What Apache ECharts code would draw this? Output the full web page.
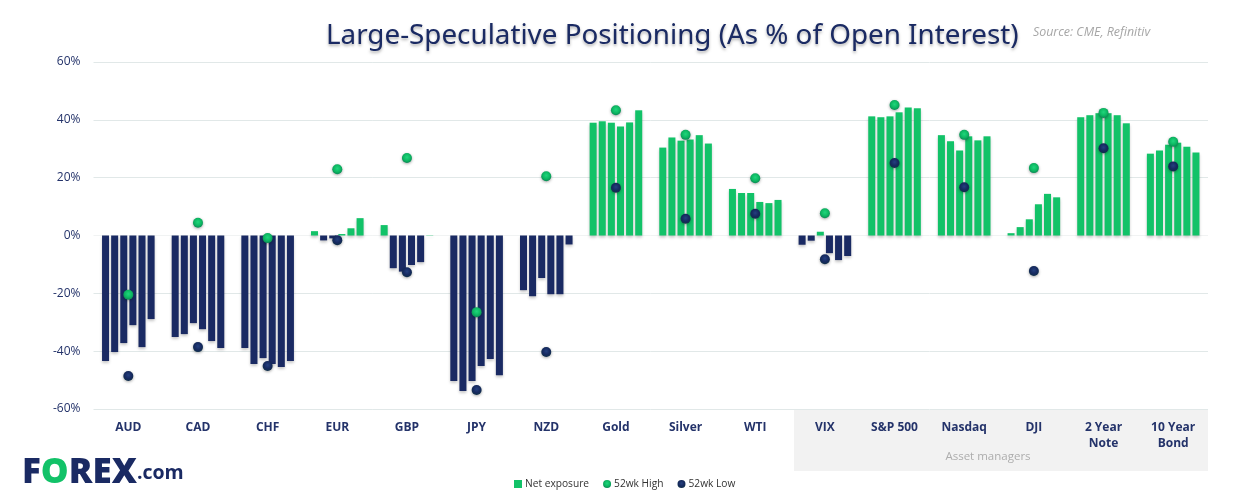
<!DOCTYPE html>
<html>
<head>
<meta charset="utf-8">
<title>Large-Speculative Positioning</title>
<script src="https://cdn.jsdelivr.net/npm/echarts@6/dist/echarts.min.js"></script>
<style>
html, body { margin: 0; padding: 0; background: #fff; }
#chart { width: 1247px; height: 503px; }
</style>
</head>
<body>
<div id="chart"></div>
<script>
var categories = ['AUD', 'CAD', 'CHF', 'EUR', 'GBP', 'JPY', 'NZD', 'Gold', 'Silver', 'WTI',
	'VIX', 'S&P 500', 'Nasdaq', 'DJI', '2 Year\nNote', '10 Year\nBond'];

// net exposure, six weekly readings per market (% of open interest)
var week1 = [-43.4, -35.1, -38.9, 1.5, 3.6, -50.3, -18.9, 39.0, 30.4, 16.1, -3.2, 41.2, 34.7, 0.8, 40.9, 28.3];
var week2 = [-40.3, -34.1, -44.4, -1.7, -11.3, -53.8, -21.0, 39.5, 33.9, 14.7, -1.8, 40.9, 32.6, 2.9, 41.6, 29.4];
var week3 = [-37.2, -30.3, -42.4, -1.0, -12.5, -50.3, -14.7, 39.0, 32.8, 14.7, 1.3, 41.2, 29.4, 5.6, 42.3, 31.4];
var week4 = [-31.0, -32.4, -44.4, 0.5, -10.2, -45.1, -20.3, 37.7, 33.2, 11.6, -6.1, 42.6, 34.3, 10.8, 42.3, 32.1];
var week5 = [-38.6, -36.5, -45.5, 2.5, -9.2, -42.7, -20.3, 39.1, 34.7, 11.2, -8.5, 44.3, 32.9, 14.4, 41.6, 30.7];
var week6 = [-28.9, -38.9, -43.4, 6.0, 0.1, -48.3, -3.1, 43.3, 31.8, 12.3, -7.1, 44.0, 34.3, 13.2, 38.8, 28.7];

var high52 = [-20.5, 4.4, -0.9, 22.9, 26.8, -26.5, 20.5, 43.3, 34.8, 19.8, 7.7, 45.1, 34.8, 23.3, 42.4, 32.4];
var low52 = [-48.6, -38.6, -45.1, -1.6, -12.7, -53.4, -40.3, 16.5, 5.8, 7.5, -8.2, 25.1, 16.7, -12.3, 30.2, 23.9];

var weeks = [week1, week2, week3, week4, week5, week6];

var GREEN = '#12c268';
var NAVY = '#1a2a63';
var FONT = '"Open Sans", "Noto Sans", sans-serif';

function ball(light, mid, dark) {
	return new echarts.graphic.RadialGradient(0.5, 0.42, 0.58, [
		{offset: 0, color: light},
		{offset: 0.6, color: mid},
		{offset: 1, color: dark}
	]);
}

var chart = echarts.init(document.getElementById('chart'), null, {renderer: 'canvas'});

var series = [];
for (var i = 0; i < weeks.length; i++) {
	series.push({
		name: 'Net exposure',
		type: 'bar',
		data: weeks[i],
		barGap: '30%',
		barCategoryGap: '24.5%',
		itemStyle: {
			color: function (p) { return p.value < 0 ? NAVY : GREEN; },
			shadowColor: 'rgba(0,0,0,0.22)',
			shadowBlur: 3,
			shadowOffsetY: 2
		}
	});
}
series.push({
	name: '52wk High',
	type: 'scatter',
	data: high52,
	symbolSize: 10,
	z: 5,
	itemStyle: {
		opacity: 1,
		color: ball('#1fd67c', '#0db862', '#0a8a55'),
		shadowColor: 'rgba(0,0,0,0.35)',
		shadowBlur: 3,
		shadowOffsetY: 1
	}
});
series.push({
	name: '52wk Low',
	type: 'scatter',
	data: low52,
	symbolSize: 10,
	z: 5,
	itemStyle: {
		opacity: 1,
		color: ball('#24407f', '#16295f', '#10304a'),
		shadowColor: 'rgba(0,0,0,0.35)',
		shadowBlur: 3,
		shadowOffsetY: 1
	}
});

var option = {
	animation: false,
	backgroundColor: '#fff',
	textStyle: {fontFamily: FONT},
	title: [
		{
			text: 'Large-Speculative Positioning (As % of Open Interest)',
			left: 321,
			top: 17,
			textStyle: {
				fontFamily: '"Noto Sans", sans-serif',
				fontSize: 27.8,
				fontWeight: 'normal',
				color: NAVY,
				textShadowColor: 'rgba(0,0,0,0.3)',
				textShadowBlur: 3,
				textShadowOffsetY: 2
			}
		},
		{
			text: 'Source: CME, Refinitiv',
			left: 1028,
			top: 21,
			textStyle: {
				fontFamily: FONT,
				fontSize: 12.4,
				fontStyle: 'italic',
				fontWeight: 'normal',
				color: '#a6a6a6'
			}
		}
	],
	legend: {
		left: 509,
		top: 474,
		itemWidth: 8,
		itemHeight: 8,
		itemGap: 14,
		textStyle: {fontSize: 10.2, color: '#333', padding: [0, 0, 0, -2]},
		data: [
			{name: 'Net exposure', icon: 'rect', itemStyle: {color: GREEN}},
			{name: '52wk High', icon: 'circle'},
			{name: '52wk Low', icon: 'circle'}
		]
	},
	grid: {left: 93.5, right: 39, top: 62, bottom: 94},
	xAxis: {
		type: 'category',
		data: categories,
		axisLine: {show: false, onZero: false},
		axisTick: {show: false},
		axisLabel: {
			interval: 0,
			margin: 11,
			fontFamily: FONT,
			fontSize: 12,
			fontWeight: 'bold',
			lineHeight: 16,
			color: '#24336a'
		}
	},
	yAxis: {
		type: 'value',
		min: -60,
		max: 60,
		interval: 20,
		axisLine: {show: false},
		axisTick: {show: false},
		axisLabel: {
			formatter: '{value}%',
			margin: 13,
			fontFamily: FONT,
			fontSize: 12,
			color: '#24336a'
		},
		splitLine: {
			lineStyle: {
				color: ['#e1e8e8', '#e1e8e8', '#e1e8e8', '#f1f3f3', '#e1e8e8', '#e1e8e8', '#e1e8e8'],
				width: 1
			}
		}
	},
	graphic: [
		{
			type: 'rect',
			z: -10,
			shape: {x: 794, y: 410, width: 414, height: 61},
			style: {fill: '#f2f2f2'}
		},
		{
			type: 'text',
			z: 1,
			x: 988,
			y: 457,
			style: {
				text: 'Asset managers',
				fill: '#adadad',
				font: '11.5px ' + FONT,
				align: 'center',
				verticalAlign: 'middle'
			}
		},
		{
			type: 'text',
			x: 22,
			y: 473,
			style: {
				text: '{a|F}{b|O}{a|REX}{c|.com}',
				verticalAlign: 'middle',
				rich: {
					a: {font: '900 35px ' + FONT, fill: NAVY},
					b: {font: '900 35px ' + FONT, fill: GREEN},
					c: {font: 'bold 19.5px ' + FONT, fill: NAVY}
				}
			}
		}
	],
	series: series
};

chart.setOption(option);
</script>
</body>
</html>
